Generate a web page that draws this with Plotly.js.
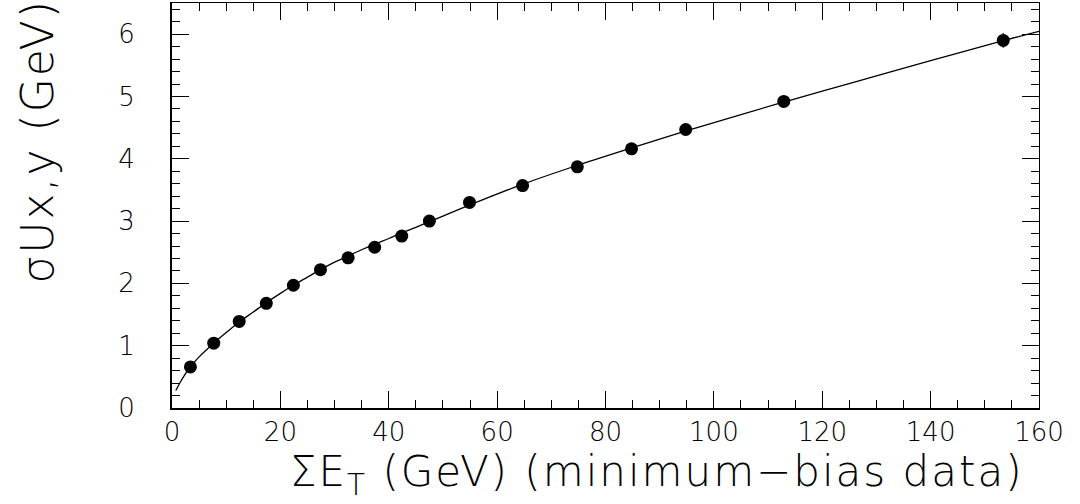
<!DOCTYPE html>
<html>
<head>
<meta charset="utf-8">
<script src="https://cdn.plot.ly/plotly-3.0.1.min.js"></script>
<style>
  html, body { margin: 0; padding: 0; background: #fff; }
  #chart { width: 1080px; height: 504px; }
  #chart .annotation-text { letter-spacing: 2px; }
</style>
</head>
<body>
<div id="chart"></div>
<script>
// Measured points: sigma of recoil (Ux,y) vs summed transverse energy
const sumEt = [3.4, 7.7, 12.4, 17.4, 22.4, 27.4, 32.5, 37.4, 42.4, 47.5, 54.9, 64.7, 74.8, 84.8, 94.8, 112.9, 153.4];
const sigmaU = [0.66, 1.04, 1.39, 1.68, 1.97, 2.22, 2.41, 2.58, 2.76, 3.00, 3.30, 3.57, 3.87, 4.16, 4.47, 4.92, 5.90];
const sigmaErr = [0.02, 0.02, 0.02, 0.02, 0.02, 0.03, 0.03, 0.03, 0.03, 0.03, 0.04, 0.04, 0.05, 0.05, 0.06, 0.07, 0.12];

// Fitted curve through the points
const fitEt = [0.7, 1.5, 2.5, 3.4, 5, 7.7, 10, 12.4, 15, 17.4, 20, 22.4, 25, 27.4, 30, 32.5, 35, 37.4, 40, 42.4, 45, 47.5, 50, 55, 65, 75, 85, 95, 105, 112.9, 120, 130, 140, 153.4, 160];
const fitSigma = [0.28, 0.41, 0.55, 0.66, 0.82, 1.04, 1.21, 1.38, 1.54, 1.69, 1.84, 1.97, 2.10, 2.22, 2.34, 2.44, 2.54, 2.63, 2.72, 2.81, 2.90, 2.99, 3.08, 3.26, 3.60, 3.90, 4.18, 4.45, 4.71, 4.91, 5.085, 5.33, 5.575, 5.895, 6.045];

const xRange = [0, 160];
const yRange = [0, 6.5];
const FONT = '"DejaVu Sans ExtraLight", "DejaVu Sans", sans-serif';

const traces = [
  {
    x: fitEt, y: fitSigma, type: 'scatter', mode: 'lines',
    line: { color: '#000', width: 1.3, shape: 'spline', smoothing: 1 },
    hoverinfo: 'skip'
  },
  {
    x: sumEt, y: sigmaU, type: 'scatter', mode: 'markers',
    marker: { color: '#000', size: 13 },
    error_y: { type: 'data', array: sigmaErr, visible: true, color: '#000', thickness: 1.2, width: 0 }
  },
  // carrier for the mirrored top/right frame axes
  { x: [], y: [], xaxis: 'x2', yaxis: 'y2', type: 'scatter', mode: 'markers', showlegend: false }
];

const majorTick = { ticks: 'inside', ticklen: 17, tickwidth: 1, tickcolor: '#000' };

const layout = {
  width: 1080, height: 504,
  margin: { l: 172, r: 41, t: 3, b: 96 },
  paper_bgcolor: '#fff', plot_bgcolor: '#fff',
  showlegend: false,
  font: { family: FONT, color: '#000', weight: 200 },
  xaxis: Object.assign({
    range: xRange, dtick: 20, showgrid: false, zeroline: false,
    showline: true, linewidth: 2, linecolor: '#000',
    minor: { dtick: 5, ticks: 'inside', ticklen: 8, tickwidth: 1, tickcolor: '#000', showgrid: false },
    tickfont: { size: 26, family: FONT, weight: 200 },
    ticklabelstandoff: 0
  }, majorTick),
  yaxis: Object.assign({
    range: yRange, dtick: 1, showgrid: false, zeroline: false,
    showline: true, linewidth: 2, linecolor: '#000',
    minor: { dtick: 0.2, ticks: 'inside', ticklen: 8, tickwidth: 1, tickcolor: '#000', showgrid: false },
    tickfont: { size: 26, family: FONT, weight: 200 },
    ticklabelstandoff: 30
  }, majorTick),
  xaxis2: Object.assign({
    range: xRange, dtick: 20, overlaying: 'x', side: 'top', anchor: 'y2',
    showgrid: false, zeroline: false, showticklabels: false,
    showline: true, linewidth: 1, linecolor: '#000',
    minor: { dtick: 5, ticks: 'inside', ticklen: 8, tickwidth: 1, tickcolor: '#000', showgrid: false }
  }, majorTick),
  yaxis2: Object.assign({
    range: yRange, dtick: 1, overlaying: 'y', side: 'right', anchor: 'x2',
    showgrid: false, zeroline: false, showticklabels: false,
    showline: true, linewidth: 1, linecolor: '#000',
    minor: { dtick: 0.2, ticks: 'inside', ticklen: 8, tickwidth: 1, tickcolor: '#000', showgrid: false }
  }, majorTick),
  annotations: [
    {
      text: 'ΣE<sub>T</sub> (GeV) (minimum−bias data)',
      xref: 'paper', yref: 'paper', x: 0.952, y: -0.163,
      xanchor: 'right', yanchor: 'middle', showarrow: false,
      font: { size: 42, family: FONT, weight: 200, color: '#000' }
    },
    {
      text: 'σUx,y (GeV)',
      xref: 'paper', yref: 'paper', x: -0.155, y: 0.657,
      xanchor: 'center', yanchor: 'middle', textangle: -90, showarrow: false,
      font: { size: 44, family: FONT, weight: 200, color: '#000' }
    }
  ]
};

Plotly.newPlot('chart', traces, layout, { displayModeBar: false, staticPlot: true });
</script>
</body>
</html>
